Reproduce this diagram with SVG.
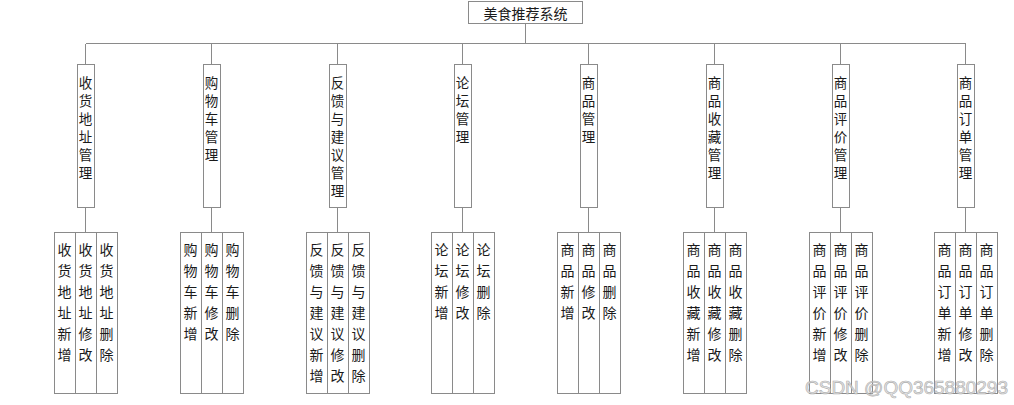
<svg xmlns="http://www.w3.org/2000/svg" width="1014" height="405" viewBox="0 0 1014 405">
<style>
  .box{fill:#ffffff;stroke:#8a8a8a;stroke-width:1;shape-rendering:crispEdges}
  .ln{fill:none;stroke:#8a8a8a;stroke-width:1;shape-rendering:crispEdges}
  .t{font-family:"Noto Sans CJK SC","Noto Sans",sans-serif;fill:#1a1a1a;text-anchor:middle;dominant-baseline:central}
  .t1{font-size:14px}
  .t2{font-size:13.5px}
  .t3{font-size:14px}
  .wm{font-family:"Liberation Sans",Arial,sans-serif;font-size:17.5px;fill:#e4e4e4;stroke:#a8a8a8;stroke-width:0.6;opacity:0.9}
</style>
<rect width="1014" height="405" fill="#ffffff"/>
<g id="connectors">
  <path class="ln" d="M525.5 23.5V43.5M85.5 43.5H965.5"/>
  <path class="ln" d="M85.5 43.5V64.5M211.5 43.5V64.5M337.5 43.5V64.5M462.5 43.5V64.5M588.5 43.5V64.5M714.5 43.5V64.5M840.5 43.5V64.5M965.5 43.5V64.5"/>
  <path class="ln" d="M85.5 207.5V232.5M211.5 207.5V232.5M337.5 207.5V232.5M462.5 207.5V232.5M588.5 207.5V232.5M714.5 207.5V232.5M840.5 207.5V232.5M965.5 207.5V232.5"/>
</g>
<g id="root">
  <rect class="box" x="468.5" y="1.5" width="114" height="22"/>
  <text class="t t1" x="525.5" y="12.5">美食推荐系统</text>
</g>
<!-- level 2 -->
<g id="n1"><rect class="box" x="77" y="64.5" width="17" height="143"/>
<text class="t t2" x="85.5 85.5 85.5 85.5 85.5 85.5 85.5" y="81.7 99.8 117.9 136 154.1 172.2 190.3">收货地址管理</text></g>
<g id="n2"><rect class="box" x="203" y="64.5" width="17" height="143"/>
<text class="t t2" x="211.5 211.5 211.5 211.5 211.5 211.5 211.5" y="81.7 99.8 117.9 136 154.1 172.2 190.3">购物车管理</text></g>
<g id="n3"><rect class="box" x="329" y="64.5" width="17" height="143"/>
<text class="t t2" x="337.5 337.5 337.5 337.5 337.5 337.5 337.5" y="81.7 99.8 117.9 136 154.1 172.2 190.3">反馈与建议管理</text></g>
<g id="n4"><rect class="box" x="454" y="64.5" width="17" height="143"/>
<text class="t t2" x="462.5 462.5 462.5 462.5 462.5 462.5 462.5" y="81.7 99.8 117.9 136 154.1 172.2 190.3">论坛管理</text></g>
<g id="n5"><rect class="box" x="580" y="64.5" width="17" height="143"/>
<text class="t t2" x="588.5 588.5 588.5 588.5 588.5 588.5 588.5" y="81.7 99.8 117.9 136 154.1 172.2 190.3">商品管理</text></g>
<g id="n6"><rect class="box" x="706" y="64.5" width="17" height="143"/>
<text class="t t2" x="714.5 714.5 714.5 714.5 714.5 714.5 714.5" y="81.7 99.8 117.9 136 154.1 172.2 190.3">商品收藏管理</text></g>
<g id="n7"><rect class="box" x="832" y="64.5" width="17" height="143"/>
<text class="t t2" x="840.5 840.5 840.5 840.5 840.5 840.5 840.5" y="81.7 99.8 117.9 136 154.1 172.2 190.3">商品评价管理</text></g>
<g id="n8"><rect class="box" x="957" y="64.5" width="17" height="143"/>
<text class="t t2" x="965.5 965.5 965.5 965.5 965.5 965.5 965.5" y="81.7 99.8 117.9 136 154.1 172.2 190.3">商品订单管理</text></g>
<!-- level 3 -->
<g id="n1a"><rect class="box" x="54" y="232.5" width="21" height="161"/><text class="t t3" x="64.5 64.5 64.5 64.5 64.5 64.5 64.5" y="249.3 270.2 291.1 312 332.9 353.8 374.7">收货地址新增</text></g>
<g id="n1b"><rect class="box" x="75" y="232.5" width="21" height="161"/><text class="t t3" x="85.5 85.5 85.5 85.5 85.5 85.5 85.5" y="249.3 270.2 291.1 312 332.9 353.8 374.7">收货地址修改</text></g>
<g id="n1c"><rect class="box" x="96" y="232.5" width="21" height="161"/><text class="t t3" x="106.5 106.5 106.5 106.5 106.5 106.5 106.5" y="249.3 270.2 291.1 312 332.9 353.8 374.7">收货地址删除</text></g>

<g id="n2a"><rect class="box" x="180" y="232.5" width="21" height="161"/><text class="t t3" x="190.5 190.5 190.5 190.5 190.5 190.5 190.5" y="249.3 270.2 291.1 312 332.9 353.8 374.7">购物车新增</text></g>
<g id="n2b"><rect class="box" x="201" y="232.5" width="21" height="161"/><text class="t t3" x="211.5 211.5 211.5 211.5 211.5 211.5 211.5" y="249.3 270.2 291.1 312 332.9 353.8 374.7">购物车修改</text></g>
<g id="n2c"><rect class="box" x="222" y="232.5" width="21" height="161"/><text class="t t3" x="232.5 232.5 232.5 232.5 232.5 232.5 232.5" y="249.3 270.2 291.1 312 332.9 353.8 374.7">购物车删除</text></g>

<g id="n3a"><rect class="box" x="306" y="232.5" width="21" height="161"/><text class="t t3" x="316.5 316.5 316.5 316.5 316.5 316.5 316.5" y="249.3 270.2 291.1 312 332.9 353.8 374.7">反馈与建议新增</text></g>
<g id="n3b"><rect class="box" x="327" y="232.5" width="21" height="161"/><text class="t t3" x="337.5 337.5 337.5 337.5 337.5 337.5 337.5" y="249.3 270.2 291.1 312 332.9 353.8 374.7">反馈与建议修改</text></g>
<g id="n3c"><rect class="box" x="348" y="232.5" width="21" height="161"/><text class="t t3" x="358.5 358.5 358.5 358.5 358.5 358.5 358.5" y="249.3 270.2 291.1 312 332.9 353.8 374.7">反馈与建议删除</text></g>

<g id="n4a"><rect class="box" x="431" y="232.5" width="21" height="161"/><text class="t t3" x="441.5 441.5 441.5 441.5 441.5 441.5 441.5" y="249.3 270.2 291.1 312 332.9 353.8 374.7">论坛新增</text></g>
<g id="n4b"><rect class="box" x="452" y="232.5" width="21" height="161"/><text class="t t3" x="462.5 462.5 462.5 462.5 462.5 462.5 462.5" y="249.3 270.2 291.1 312 332.9 353.8 374.7">论坛修改</text></g>
<g id="n4c"><rect class="box" x="473" y="232.5" width="21" height="161"/><text class="t t3" x="483.5 483.5 483.5 483.5 483.5 483.5 483.5" y="249.3 270.2 291.1 312 332.9 353.8 374.7">论坛删除</text></g>

<g id="n5a"><rect class="box" x="557" y="232.5" width="21" height="161"/><text class="t t3" x="567.5 567.5 567.5 567.5 567.5 567.5 567.5" y="249.3 270.2 291.1 312 332.9 353.8 374.7">商品新增</text></g>
<g id="n5b"><rect class="box" x="578" y="232.5" width="21" height="161"/><text class="t t3" x="588.5 588.5 588.5 588.5 588.5 588.5 588.5" y="249.3 270.2 291.1 312 332.9 353.8 374.7">商品修改</text></g>
<g id="n5c"><rect class="box" x="599" y="232.5" width="21" height="161"/><text class="t t3" x="609.5 609.5 609.5 609.5 609.5 609.5 609.5" y="249.3 270.2 291.1 312 332.9 353.8 374.7">商品删除</text></g>

<g id="n6a"><rect class="box" x="683" y="232.5" width="21" height="161"/><text class="t t3" x="693.5 693.5 693.5 693.5 693.5 693.5 693.5" y="249.3 270.2 291.1 312 332.9 353.8 374.7">商品收藏新增</text></g>
<g id="n6b"><rect class="box" x="704" y="232.5" width="21" height="161"/><text class="t t3" x="714.5 714.5 714.5 714.5 714.5 714.5 714.5" y="249.3 270.2 291.1 312 332.9 353.8 374.7">商品收藏修改</text></g>
<g id="n6c"><rect class="box" x="725" y="232.5" width="21" height="161"/><text class="t t3" x="735.5 735.5 735.5 735.5 735.5 735.5 735.5" y="249.3 270.2 291.1 312 332.9 353.8 374.7">商品收藏删除</text></g>

<g id="n7a"><rect class="box" x="809" y="232.5" width="21" height="161"/><text class="t t3" x="819.5 819.5 819.5 819.5 819.5 819.5 819.5" y="249.3 270.2 291.1 312 332.9 353.8 374.7">商品评价新增</text></g>
<g id="n7b"><rect class="box" x="830" y="232.5" width="21" height="161"/><text class="t t3" x="840.5 840.5 840.5 840.5 840.5 840.5 840.5" y="249.3 270.2 291.1 312 332.9 353.8 374.7">商品评价修改</text></g>
<g id="n7c"><rect class="box" x="851" y="232.5" width="21" height="161"/><text class="t t3" x="861.5 861.5 861.5 861.5 861.5 861.5 861.5" y="249.3 270.2 291.1 312 332.9 353.8 374.7">商品评价删除</text></g>

<g id="n8a"><rect class="box" x="934" y="232.5" width="21" height="161"/><text class="t t3" x="944.5 944.5 944.5 944.5 944.5 944.5 944.5" y="249.3 270.2 291.1 312 332.9 353.8 374.7">商品订单新增</text></g>
<g id="n8b"><rect class="box" x="955" y="232.5" width="21" height="161"/><text class="t t3" x="965.5 965.5 965.5 965.5 965.5 965.5 965.5" y="249.3 270.2 291.1 312 332.9 353.8 374.7">商品订单修改</text></g>
<g id="n8c"><rect class="box" x="976" y="232.5" width="21" height="161"/><text class="t t3" x="986.5 986.5 986.5 986.5 986.5 986.5 986.5" y="249.3 270.2 291.1 312 332.9 353.8 374.7">商品订单删除</text></g>

<text class="wm" x="805" y="394" textLength="203" lengthAdjust="spacingAndGlyphs">CSDN @QQ365880293</text>
</svg>
